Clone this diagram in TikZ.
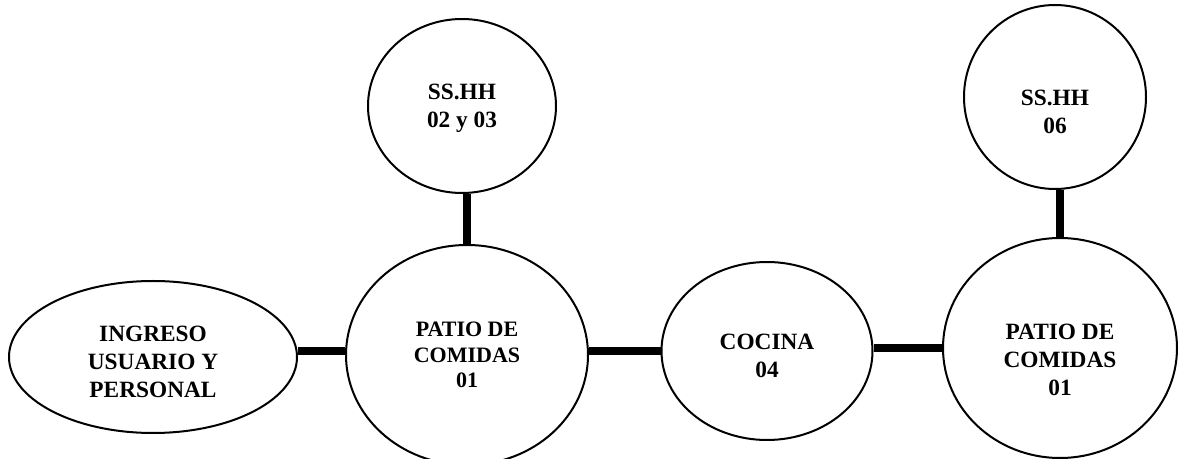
\documentclass[tikz,border=0pt]{standalone}
\usepackage{fontspec}
\setmainfont{Liberation Serif}
\usepackage{tikz}
\usetikzlibrary{shapes.geometric}

% empuja el texto hacia abajo dentro de la zona
\newcommand{\bajar}[1]{\rule{0pt}{#1}}

\tikzset{
  zona/.style={ellipse, draw=black, fill=white, line width=1.5pt, inner sep=0pt,
    align=center, font=\fontsize{17.5}{21}\selectfont\bfseries},
  enlace/.style={draw=black, line width=5.5pt},
}

\begin{document}
\begin{tikzpicture}[x=0.75pt, y=-0.75pt]
            \useasboundingbox (0,0) rectangle (1179,459);
            \clip (0,0) rectangle (1179,459);
            % zonas
            \node[zona, minimum width=216pt, minimum height=114pt] (ingreso)
                at (153,357) {\bajar{19pt}INGRESO\\USUARIO Y\\PERSONAL};
            \node[zona, minimum width=181.5pt, minimum height=165pt,
                font=\fontsize{16.5}{19}\selectfont\bfseries] (patioA)
                at (467,355) {PATIO DE\\COMIDAS\\01};
            \node[zona, minimum width=141pt, minimum height=130.5pt] (sshhA)
                at (462,106) {\bajar{15pt}SS.HH\\02 y 03};
            \node[zona, minimum width=158.25pt, minimum height=133.5pt] (cocina)
                at (767,351) {\bajar{19pt}COCINA\\04};
            \node[zona, minimum width=175.5pt, minimum height=165pt] (patioB)
                at (1060,348) {\bajar{29pt}PATIO DE\\COMIDAS\\01};
            \node[zona, minimum width=136.5pt, minimum height=138pt] (sshhB)
                at (1055,97) {\bajar{34pt}SS.HH\\06};
            % enlaces
            \draw[enlace] ([yshift=4.5pt]ingreso.east) -- ([yshift=4.5pt]ingreso.east -| patioA.west);
            \draw[enlace] (cocina.west) -- (cocina.west -| patioA.east);
            \draw[enlace] (patioB.west) -- (patioB.west -| cocina.east);
            \draw[enlace] (patioA.north) -- (patioA.north |- sshhA.south);
            \draw[enlace] (patioB.north) -- (patioB.north |- sshhB.south);
        \end{tikzpicture}
\end{document}
